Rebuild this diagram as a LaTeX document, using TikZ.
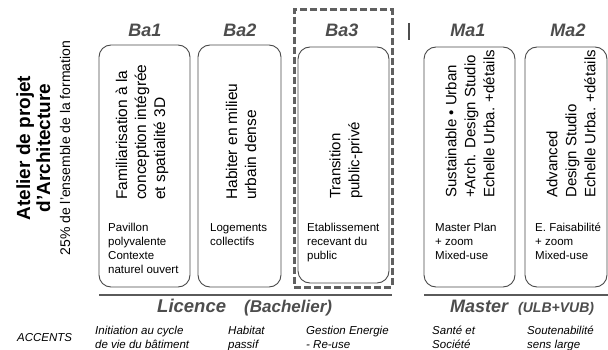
\documentclass[tikz,border=0pt]{standalone}
\usepackage{fontspec}
\setmainfont{Liberation Sans}
\definecolor{hdr}{HTML}{4D4D4D}
\definecolor{boxc}{HTML}{4A4A4A}
\definecolor{dashc}{HTML}{606060}
\definecolor{rulec}{HTML}{5A5A5A}
\begin{document}
\begin{tikzpicture}[x=1pt,y=-1pt,
  stage/.style={draw=boxc, line width=0.9pt, rounded corners=12pt, inner sep=0pt},
  dashbox/.style={draw=dashc, line width=3pt, dash pattern=on 7pt off 3pt, inner sep=0pt},
  hdrtext/.style={font=\fontsize{18}{20}\selectfont\bfseries\itshape, text=hdr, inner sep=0pt, anchor=base},
  vtext/.style={rotate=90, anchor=west, align=left, inner sep=0pt, font=\fontsize{15}{19}\selectfont},
  btext/.style={anchor=north west, align=left, inner sep=0pt, font=\fontsize{11.5}{14}\selectfont},
  acc/.style={anchor=north west, align=left, inner sep=0pt, font=\fontsize{11.5}{14}\selectfont\itshape},
  levelrule/.style={draw=rulec, line width=2.5pt},
  lvl/.style={inner sep=0pt, anchor=base west, text=hdr, font=\bfseries\itshape}
]
\useasboundingbox (0,0) rectangle (608,350);

% left title
\node[rotate=90, anchor=south, align=center, inner sep=0pt,
      font=\fontsize{19}{20}\selectfont] (title) at (70.5,148)
  {\bfseries Atelier de projet\\\bfseries d’Architecture\\\fontsize{14}{20}\selectfont 25\% de l’ensemble de la formation};

% headers
\node[hdrtext] (h1) at (145,37) {Ba1};
\node[hdrtext] (h2) at (240,37) {Ba2};
\node[hdrtext] (h3) at (342,37) {Ba3};
\node[hdrtext] (h4) at (468,37) {Ma1};
\node[hdrtext] (h5) at (568,37) {Ma2};
\coordinate (sepA) at (409,23);
\coordinate (sepB) at (409,40);
\draw[draw=hdr, line width=1.8pt] (sepA) -- (sepB);

% stage boxes
\node[stage, minimum width=91pt, minimum height=242pt] (ba1) at (144.5,166) {};
\node[stage, minimum width=83pt, minimum height=242pt] (ba2) at (239.5,166) {};
\node[stage, minimum width=91pt, minimum height=236pt] (ba3) at (343.5,165) {};
\node[stage, minimum width=91pt, minimum height=240pt] (ma1) at (469.5,167) {};
\node[stage, minimum width=82pt, minimum height=240pt] (ma2) at (566,167) {};
\node[dashbox, minimum width=98pt, minimum height=277pt] (hl) at (343,148.5) {};

% vertical titles
\node[vtext, font=\fontsize{15.5}{19}\selectfont] (t1) at (142,200) {Familiarisation à la\\conception intégrée\\et spatialité 3D};
\node[vtext, font=\fontsize{15.5}{19}\selectfont] (t2) at (241,200) {Habiter en milieu\\urbain dense};
\node[vtext] (t3) at (346,199) {Transition\\public-privé};
\node[vtext] (t4) at (470,198) {Sustainable • Urban\\+Arch. Design Studio\\Echelle Urba. +détails};
\node[vtext] (t5) at (571,198) {Advanced\\Design Studio\\Echelle Urba. +détails};

% programme texts
\node[btext] (b1) at (108,221.2) {\strut Pavillon\\polyvalente\\Contexte\\naturel ouvert};
\node[btext] (b2) at (210,221.2) {\strut Logements\\collectifs};
\node[btext] (b3) at (307,221.2) {\strut Etablissement\\recevant du\\public};
\node[btext] (b4) at (435,221.2) {\strut Master Plan\\+ zoom\\Mixed-use};
\node[btext] (b5) at (535,221.2) {\strut E. Faisabilité\\+ zoom\\Mixed-use};

% level rules
\coordinate (licA) at (99,295);
\coordinate (licB) at (392,295);
\coordinate (masA) at (424,295);
\coordinate (masB) at (608,295);
\draw[levelrule] (licA) -- (licB);
\draw[levelrule] (masA) -- (masB);

\node[lvl, font=\fontsize{18.5}{20}\selectfont\bfseries\itshape] (lic) at (157,312.5) {Licence};
\node[lvl, font=\fontsize{17}{20}\selectfont\bfseries\itshape] (bach) at (244,312.5) {(Bachelier)};
\node[lvl, font=\fontsize{18}{20}\selectfont\bfseries\itshape] (mas) at (450,312.5) {Master};
\node[lvl, font=\fontsize{14}{20}\selectfont\bfseries\itshape] (ulb) at (518,312.5) {(ULB+VUB)};

% accents
\node[inner sep=0pt, anchor=base west, font=\fontsize{11.5}{14}\selectfont\itshape] (accl) at (17,341) {ACCENTS};
\node[acc] (a1) at (95,324.5) {\strut Initiation au cycle\\de vie du bâtiment};
\node[acc] (a2) at (228,324.5) {\strut Habitat\\passif};
\node[acc] (a3) at (306,324.5) {\strut Gestion Energie\\- Re-use};
\node[acc] (a4) at (432,324.5) {\strut Santé et\\Société};
\node[acc] (a5) at (527,324.5) {\strut Soutenabilité\\sens large};
\end{tikzpicture}
\end{document}
